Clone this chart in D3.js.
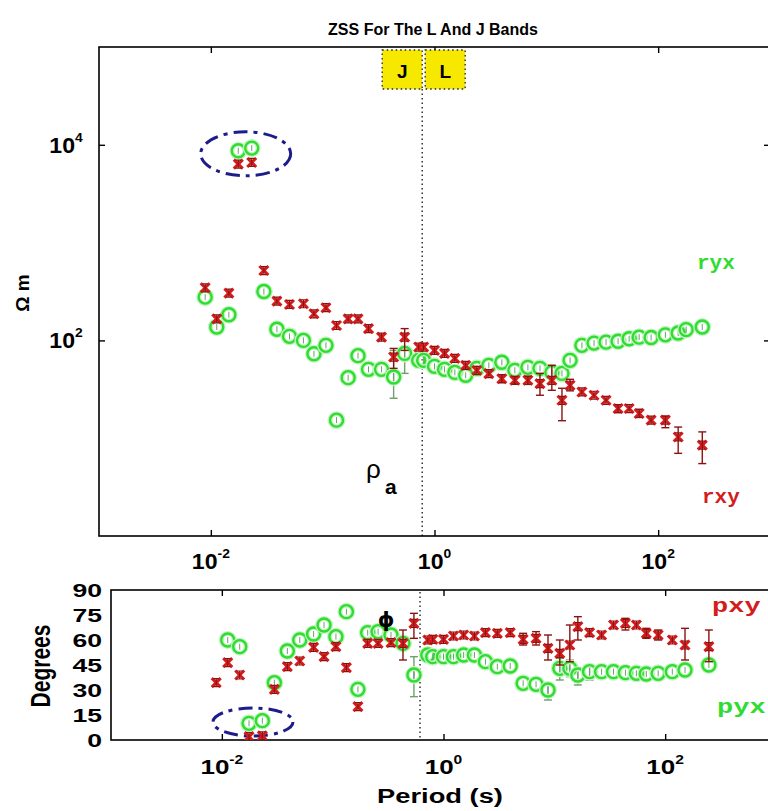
<!DOCTYPE html>
<html>
<head>
<meta charset="utf-8">
<script src="https://cdn.jsdelivr.net/npm/d3@7"></script>
<style>
  body { margin: 0; background: #fff; }
  text { font-family: "Liberation Sans", Arial, sans-serif; font-weight: bold; }
</style>
</head>
<body>
<div id="chart"></div>
<script>
// periods (s) shared by all four series
const periods = [0.0089, 0.0113, 0.0145, 0.0176, 0.0232, 0.0298, 0.039, 0.0505, 0.0673, 0.0836,
  0.107, 0.133, 0.169, 0.207, 0.257, 0.336, 0.431, 0.541, 0.722, 0.80,
  1.00, 1.23, 1.52, 1.90, 2.39, 3.06, 4.00, 5.23, 6.84, 8.77,
  11.2, 13.8, 16.3, 20.8, 26.7, 34.2, 43.8, 55.0, 67.6, 86.5,
  116, 151, 178, 248];

// apparent resistivity (ohm m)
const rxy = [345, 166, 304, 6350, 6600, 518, 252, 233, 237, 187,
  216, 142, 166, 166, 132, 108, 67.6, 108, 85.5, 85.5,
  79, 73.6, 65.5, 55.6, 49.4, 45.7, 40.6, 39.1, 39.1, 36.1,
  39.1, 24.4, 34.8, 29.7, 27.5, 24.4, 20.1, 20.1, 17.9, 15.3,
  15.3, 10.3, null, 8.5];
const ryx = [277, 137, 183, 8690, 9250, 316, 130, 110, 100, 73,
  89, 15.3, 41.6, 69.8, 50.6, 50.6, 42.3, 73.6, 62.5, 62.5,
  54.3, 50.6, 47.1, 44, 51.8, 55.6, 59.7, 49.4, 53, 51.8,
  47.1, 46, 62.5, 89, 93.8, 96, 98, 104, 108, 107,
  114, 119, 129, 137];

// phase (degrees)
const pxy = [34.4, 46.4, 39, 2, 2.5, 30.4, 44, 47.4, 55.6, 50,
  56, 43.4, 20, 58, 58, 58.4, 58, 70, 60, 60.4,
  60.4, 62.4, 63, 62.4, 64.4, 64, 64.4, 60.4, 61, 55,
  52, 57, 68, 64.4, 63, 69, 70, 69, 64, 63,
  60, 57, null, 56];
const pyx = [null, 60, 56, 10, 11.6, 34.4, 53.4, 60, 63.6, 69,
  62, 77, 30.4, 64.4, 65, 63, 58, 39, 51, 50,
  50, 50, 51, 51, 47, 44, 44.4, 34, 33.4, 30,
  43, 43, 39, 41, 41, 41, 40.4, 40, 39.6, 40,
  41, 42, null, 45];

// visible error bars: [index, low, high]
const rxyErr = [[16, 51.8, 82.8], [17, 79, 132], [26, 37, 44.5], [27, 36, 42.5], [28, 35.5, 43],
  [29, 27.5, 46], [30, 30.9, 55.6], [31, 15.1, 32.4], [32, 30.5, 40], [36, 18.3, 22],
  [38, 16.3, 19.7], [40, 12.8, 16.8], [41, 7.0, 13.0], [43, 5.5, 11.6]];
const ryxErr = [[16, 25.6, 79], [17, 46, 82.8]];
const pxyErr = [[16, 48, 66], [17, 61, 76], [27, 57, 64], [28, 57, 65], [29, 48, 63],
  [30, 45, 60], [31, 47, 69], [32, 60, 74], [36, 66, 73], [38, 61, 67],
  [39, 60, 66], [41, 48, 67], [43, 47, 66]];
const pyxErr = [[17, 26, 50], [29, 24, 33], [30, 36, 49], [31, 38, 48], [32, 33, 43], [33, 36, 44]];

const xTicks = [1e-2, 1, 1e2];
const rhoTicks = [1e2, 1e4];
const phaseTicks = [0, 15, 30, 45, 60, 75, 90];

// J / L band boundary as drawn in each panel
const bandEdgeTop = 0.776;
const bandEdgeBottom = 0.614;
// circled (suspect) points: [period, value]
const outlierTop = [0.0205, 8090];
const outlierBottom = [0.0191, 10.8];

const width = 768, height = 811;
const RED = "#d41c1c", RED_DARK = "#8a1212", GREEN = "#2fdc2f", GREEN_BAR = "#6f9f6f", NAVY = "#1c1c8a";

const svg = d3.select("#chart").append("svg")
  .attr("width", width).attr("height", height)
  .attr("viewBox", [0, 0, width, height]);

const x1 = d3.scaleLog().domain([1e-3, 1e3]).range([99, 770]);
const y1 = d3.scaleLog().domain([1, 1e5]).range([536, 47]);
const x2 = d3.scaleLog().domain([1e-3, 1e3]).range([111, 776]);
const y2 = d3.scaleLinear().domain([0, 90]).range([740, 590]);

svg.append("text").attr("x", 433).attr("y", 35).attr("text-anchor", "middle")
  .style("font-size", "16px").text("ZSS For The L And J Bands");

// clip paths
const defs = svg.append("defs");
defs.append("clipPath").attr("id", "clipTop").append("rect")
  .attr("x", 99).attr("y", 47).attr("width", 671).attr("height", 489);
defs.append("clipPath").attr("id", "clipBot").append("rect")
  .attr("x", 111).attr("y", 590).attr("width", 665).attr("height", 150);

function powLabel(g, exp, size, sx) {
  const t = g.append("text").attr("text-anchor", "middle")
    .attr("transform", `scale(${sx},1)`)
    .style("font-size", size + "px").attr("fill", "#000");
  t.append("tspan").text("10");
  t.append("tspan").attr("dy", -size * 0.5).style("font-size", (size * 0.6) + "px").text(exp);
  return t;
}

function frame(x, y, name) {
  const [x0, xMax] = x.range();
  const [yMax, y0] = y.range();
  const g = svg.append("g").attr("class", name + "-axes");
  g.append("rect").attr("x", x0).attr("y", y0).attr("width", xMax - x0).attr("height", yMax - y0)
    .attr("fill", "none").attr("stroke", "#000").attr("stroke-width", 1.6);
  return g;
}

function errorBars(g, x, y, vals, errs, color) {
  errs.forEach(([i, lo, hi]) => {
    const px = x(periods[i]);
    g.append("line").attr("x1", px).attr("x2", px).attr("y1", y(lo)).attr("y2", y(hi))
      .attr("stroke", color).attr("stroke-width", 1.4);
    [lo, hi].forEach(v => g.append("line").attr("x1", px - 4).attr("x2", px + 4)
      .attr("y1", y(v)).attr("y2", y(v)).attr("stroke", color).attr("stroke-width", 1.4));
  });
}

function circles(g, x, y, vals) {
  const pts = periods.map((p, i) => [p, vals[i]]).filter(d => d[1] != null);
  const s = g.append("g").selectAll("g").data(pts).join("g")
    .attr("transform", d => `translate(${x(d[0])},${y(d[1])})`);
  s.append("circle").attr("r", 6.5).attr("fill", "none").attr("stroke", "#c4f4c4").attr("stroke-width", 5);
  s.append("circle").attr("r", 6.5).attr("fill", "none").attr("stroke", GREEN).attr("stroke-width", 2.4);
  s.append("line").attr("y1", -3).attr("y2", 3).attr("stroke", GREEN_BAR).attr("stroke-width", 1);
}

function crosses(g, x, y, vals) {
  const pts = periods.map((p, i) => [p, vals[i]]).filter(d => d[1] != null);
  const s = g.append("g").selectAll("g").data(pts).join("g")
    .attr("transform", d => `translate(${x(d[0])},${y(d[1])})`);
  s.append("path").attr("d", "M-4.5,-4.5L4.5,4.5M-4.5,4.5L4.5,-4.5")
    .attr("stroke", RED).attr("stroke-width", 3);
  s.append("path").attr("d", "M-3,-4H3M-3,4H3M0,-4V4")
    .attr("stroke", RED_DARK).attr("stroke-width", 1.2);
}

// ---------- top panel: apparent resistivity ----------
const gTop = frame(x1, y1, "top");
gTop.append("g").attr("transform", "translate(0,536)")
  .call(d3.axisBottom(x1).tickValues(xTicks).tickSizeInner(-6).tickSizeOuter(0).tickFormat(() => ""))
  .call(g => g.select(".domain").remove());
gTop.append("g").attr("transform", "translate(0,47)")
  .call(d3.axisTop(x1).tickValues(xTicks).tickSizeInner(-6).tickSizeOuter(0).tickFormat(() => ""))
  .call(g => g.select(".domain").remove());
gTop.append("g").attr("transform", "translate(99,0)")
  .call(d3.axisLeft(y1).tickValues(rhoTicks).tickSizeInner(-6).tickSizeOuter(0).tickFormat(() => ""))
  .call(g => g.select(".domain").remove());
gTop.append("g").attr("transform", "translate(770,0)")
  .call(d3.axisRight(y1).tickValues(rhoTicks).tickSizeInner(-6).tickSizeOuter(0).tickFormat(() => ""))
  .call(g => g.select(".domain").remove());
gTop.selectAll(".tick line").attr("stroke-width", 1.4);

xTicks.forEach(v => {
  const g = svg.append("g").attr("transform", `translate(${x1(v)},569)`);
  powLabel(g, Math.log10(v), 22, 1.05);
});
rhoTicks.forEach(v => {
  const g = svg.append("g").attr("transform", `translate(66,${y1(v) + 8})`);
  powLabel(g, Math.log10(v), 22, 1.05);
});
svg.append("text").attr("transform", "translate(29,293) rotate(-90)")
  .attr("text-anchor", "middle").style("font-size", "19px").text("Ω m");

const dTop = svg.append("g").attr("clip-path", "url(#clipTop)");
const xe1 = x1(bandEdgeTop);
dTop.append("line").attr("x1", xe1).attr("x2", xe1).attr("y1", 89).attr("y2", 536)
  .attr("stroke", "#000").attr("stroke-width", 1.2).attr("stroke-dasharray", "1.5,3");
[["J", xe1 - 40], ["L", xe1 + 3]].forEach(([t, bx]) => {
  dTop.append("rect").attr("x", bx).attr("y", 50).attr("width", 40).attr("height", 39)
    .attr("fill", "#f7e800").attr("stroke", "#222").attr("stroke-width", 1.3).attr("stroke-dasharray", "1.5,3");
  dTop.append("text").attr("x", bx + 20).attr("y", 78).attr("text-anchor", "middle")
    .style("font-size", "19px").text(t);
});

dTop.append("ellipse").attr("cx", x1(outlierTop[0])).attr("cy", y1(outlierTop[1]))
  .attr("rx", 45).attr("ry", 22).attr("fill", "none").attr("stroke", NAVY)
  .attr("stroke-width", 3).attr("stroke-dasharray", "14,6,4,6");

errorBars(dTop, x1, y1, ryx, ryxErr, GREEN_BAR);
circles(dTop, x1, y1, ryx);
errorBars(dTop, x1, y1, rxy, rxyErr, RED_DARK);
crosses(dTop, x1, y1, rxy);

svg.append("text").attr("x", 366).attr("y", 478).style("font-size", "26px").style("font-weight", "normal")
  .attr("font-family", "DejaVu Sans").text("ρ");
svg.append("text").attr("x", 385).attr("y", 494).style("font-size", "21px").text("a");
svg.append("text").attr("x", 697).attr("y", 269).attr("fill", GREEN)
  .style("font-family", "'Liberation Mono', monospace").style("font-size", "21px").text("ryx");
svg.append("text").attr("x", 702).attr("y", 503).attr("fill", RED)
  .style("font-family", "'Liberation Mono', monospace").style("font-size", "21px").text("rxy");

// ---------- bottom panel: phase ----------
const gBot = frame(x2, y2, "bottom");
gBot.append("g").attr("transform", "translate(0,740)")
  .call(d3.axisBottom(x2).tickValues(xTicks).tickSizeInner(-6).tickSizeOuter(0).tickFormat(() => ""))
  .call(g => g.select(".domain").remove());
gBot.append("g").attr("transform", "translate(0,590)")
  .call(d3.axisTop(x2).tickValues(xTicks).tickSizeInner(-6).tickSizeOuter(0).tickFormat(() => ""))
  .call(g => g.select(".domain").remove());
gBot.append("g").attr("transform", "translate(776,0)")
  .call(d3.axisRight(y2).tickValues(phaseTicks).tickSizeInner(-6).tickSizeOuter(0).tickFormat(() => ""))
  .call(g => g.select(".domain").remove());
gBot.selectAll(".tick line").attr("stroke-width", 1.4);

xTicks.forEach(v => {
  const g = svg.append("g").attr("transform", `translate(${x2(v)},774)`);
  powLabel(g, Math.log10(v), 20, 1.3);
});
phaseTicks.forEach(v => {
  svg.append("text").attr("transform", `translate(102,${y2(v) + 7}) scale(1.4,1)`)
    .attr("text-anchor", "end").style("font-size", "19px").text(v);
});
svg.append("text").attr("transform", "translate(50,666) rotate(-90) scale(1,1.3)")
  .attr("text-anchor", "middle").style("font-size", "21px").text("Degrees");
svg.append("text").attr("transform", "translate(440,803) scale(1.3,1)")
  .attr("text-anchor", "middle").style("font-size", "21px").text("Period (s)");

const dBot = svg.append("g").attr("clip-path", "url(#clipBot)");
const xe2 = x2(bandEdgeBottom);
dBot.append("line").attr("x1", xe2).attr("x2", xe2).attr("y1", 592).attr("y2", 740)
  .attr("stroke", "#000").attr("stroke-width", 1.2).attr("stroke-dasharray", "1.5,3");
dBot.append("ellipse").attr("cx", x2(outlierBottom[0])).attr("cy", y2(outlierBottom[1]))
  .attr("rx", 40).attr("ry", 14).attr("fill", "none").attr("stroke", NAVY)
  .attr("stroke-width", 3).attr("stroke-dasharray", "14,6,4,6");

errorBars(dBot, x2, y2, pyx, pyxErr, GREEN_BAR);
circles(dBot, x2, y2, pyx);
errorBars(dBot, x2, y2, pxy, pxyErr, RED_DARK);
crosses(dBot, x2, y2, pxy);

svg.append("text").attr("x", 386).attr("y", 627).attr("text-anchor", "middle")
  .style("font-family", "'DejaVu Sans', sans-serif").style("font-size", "21px").text("ϕ");
svg.append("text").attr("transform", "translate(712,612) scale(1.35,1)").attr("fill", RED)
  .style("font-family", "'Liberation Mono', monospace").style("font-size", "20px").text("pxy");
svg.append("text").attr("transform", "translate(717,713) scale(1.35,1)").attr("fill", GREEN)
  .style("font-family", "'Liberation Mono', monospace").style("font-size", "20px").text("pyx");
</script>
</body>
</html>
